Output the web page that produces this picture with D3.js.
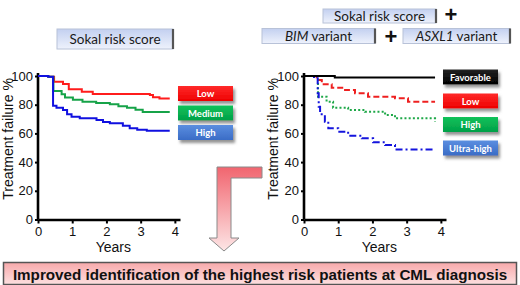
<!DOCTYPE html>
<html>
<head>
<meta charset="utf-8">
<script src="https://cdn.jsdelivr.net/npm/d3@7"></script>
<style>
  body { margin: 0; background: #fff; }
  svg { display: block; }
</style>
</head>
<body>
<script>
// tick labels
const yearTicks = [0, 1, 2, 3, 4];
const pctTicks = [0, 20, 40, 60, 80, 100];

// left panel: Sokal risk score only  [years, % free of failure]
const sokalNames = ["Low", "Medium", "High"];
const sokalLow = [[0,100],[0.3,99.5],[0.47,96],[0.73,94.4],[0.9,90.7],[1.28,89],[1.6,87.5],[3.27,86.8],[3.36,85.2],[3.55,84.3],[3.85,84.3]];
const sokalMed = [[0,100],[0.3,99.5],[0.45,89.5],[0.69,87.2],[0.79,85],[1.02,83.5],[1.3,82.1],[1.7,81.2],[2.1,80.3],[2.35,79],[2.6,77.9],[2.85,76.5],[3.06,75],[3.85,75]];
const sokalHigh = [[0,100],[0.3,99.5],[0.44,79.3],[0.54,77.9],[0.73,76.3],[0.85,73.3],[0.98,71.6],[1.22,70.5],[1.71,69.3],[1.9,68],[2.1,67],[2.48,65.4],[2.68,63.6],[2.9,62.5],[3.18,61.9],[3.85,61.9]];

// right panel: Sokal + BIM + ASXL1
const comboNames = ["Favorable", "Low", "High", "Ultra-high"];
const comboFav = [[0,100],[0.9,99],[3.83,99]];
const comboLow = [[0,100],[0.37,97.2],[0.52,94.2],[0.81,91.8],[1.2,90.2],[1.49,87.9],[1.87,85.6],[2.66,84.5],[3.04,82.1],[3.83,82.1]];
const comboHigh = [[0,100],[0.41,85.6],[0.66,82.1],[0.85,77.9],[1.29,76.3],[1.78,75.1],[2.37,72.8],[2.66,70.5],[3.63,70.5],[3.83,68.2]];
const comboUltra = [[0,100],[0.18,99.3],[0.4,87.9],[0.43,78.6],[0.47,73.3],[0.61,68.2],[0.71,63.6],[1.0,61.2],[1.29,58.4],[1.69,56.6],[2.02,53.8],[2.37,51.9],[2.66,48.8],[3.83,48.8]];

const yTitle = "Treatment failure %";
const xTitle = "Years";
const bottomText = "Improved identification of the highest risk patients at CML diagnosis";

const svg = d3.select("body").append("svg")
    .attr("width", 520)
    .attr("height", 285);

const defs = svg.append("defs");

defs.append("filter").attr("id", "shadow")
    .attr("x", "-20%").attr("y", "-30%").attr("width", "150%").attr("height", "190%")
    .append("feDropShadow")
    .attr("dx", 2).attr("dy", 3).attr("stdDeviation", 1.8)
    .attr("flood-color", "#777").attr("flood-opacity", 0.8);

function grad(id, c1, c2) {
    let g = defs.append("linearGradient").attr("id", id)
        .attr("x1", 0).attr("y1", 0).attr("x2", 0).attr("y2", 1);
    g.append("stop").attr("offset", "0%").attr("stop-color", c1);
    g.append("stop").attr("offset", "100%").attr("stop-color", c2);
}
grad("gBlueBox", "#c3d0f0", "#eef2fc");
grad("gRed", "#ff2a2a", "#ee0000");
grad("gGreen", "#12c25a", "#00a048");
grad("gBlue", "#5b8ee0", "#3a6cc6");
grad("gBlack", "#222", "#000");
grad("gArrow", "#f1656f", "#fde6e6");
grad("gBanner", "#f7a9ab", "#fde0e0");

function panel(x0, series, styles, legend, titleX) {
    const xScale = d3.scaleLinear([0, 4.15], [x0, x0 + 142]);
    const yScale = d3.scaleLinear([0, 100], [219.5, 76]);

    const xAxis = svg.append("g")
        .attr("transform", `translate(0, 219.5)`)
        .call(d3.axisBottom(xScale).tickValues(yearTicks).tickFormat(d3.format("d"))
            .tickSize(4).tickSizeOuter(0).tickPadding(3));
    const yAxis = svg.append("g")
        .attr("transform", `translate(${x0}, 0)`)
        .call(d3.axisLeft(yScale).tickValues(pctTicks).tickSize(3).tickSizeOuter(0).tickPadding(2));

    for (let ax of [xAxis, yAxis]) {
        ax.select(".domain").attr("stroke", "#000").attr("stroke-width", 2.6);
        ax.selectAll(".tick line").attr("stroke", "#000").attr("stroke-width", 2);
        ax.selectAll(".tick text")
            .attr("fill", "#111")
            .style("font", "13px 'Liberation Sans', Arial, sans-serif");
    }
    yAxis.select(".domain").attr("d", `M0,219.5V73`);

    const dMaker = d3.line()
        .x(d => xScale(d[0]))
        .y(d => yScale(d[1]))
        .curve(d3.curveStepAfter);

    svg.append("g")
        .selectAll("path")
        .data(series)
        .enter()
        .append("path")
        .attr("fill", "none")
        .attr("stroke", (d, i) => styles[i].color)
        .attr("stroke-width", 2)
        .attr("stroke-dasharray", (d, i) => styles[i].dash)
        .attr("d", d => dMaker(d));

    svg.append("text")
        .attr("transform", `translate(${titleX}, 139) rotate(-90)`)
        .attr("text-anchor", "middle")
        .attr("fill", "#111")
        .style("font", "14px 'Liberation Sans', Arial, sans-serif")
        .text(yTitle);

    svg.append("text")
        .attr("x", xScale(2.2))
        .attr("y", 252)
        .attr("text-anchor", "middle")
        .attr("fill", "#111")
        .style("font", "14px 'Liberation Sans', Arial, sans-serif")
        .text(xTitle);

    const lg = svg.append("g")
        .selectAll("g")
        .data(legend)
        .enter()
        .append("g")
        .attr("transform", d => `translate(${d.x}, ${d.y})`);
    lg.append("rect")
        .attr("width", 55).attr("height", 15)
        .attr("fill", d => d.fill)
        .attr("filter", "url(#shadow)");
    lg.append("text")
        .attr("x", 27.5).attr("y", 11)
        .attr("text-anchor", "middle")
        .attr("fill", "#fff")
        .style("font", "bold 9.5px Lato, 'Open Sans', sans-serif")
        .text(d => d.name);
}

panel(38, [sokalLow, sokalMed, sokalHigh],
    [{ color: "#ff1c1c", dash: null }, { color: "#16a348", dash: null }, { color: "#1010e0", dash: null }],
    sokalNames.map((n, i) => ({ name: n, x: 178, y: [86, 105.5, 125][i], fill: ["url(#gRed)", "url(#gGreen)", "url(#gBlue)"][i] })),
    13);

panel(304, [comboLow, comboHigh, comboUltra, comboFav],
    [{ color: "#ee2020", dash: "6,3" }, { color: "#1ea848", dash: "2,2.2" }, { color: "#1414dd", dash: "7,3,2,3" }, { color: "#000", dash: null }],
    comboNames.map((n, i) => ({ name: n, x: 443, y: [69.5, 93.5, 117, 140.5][i], fill: ["url(#gBlack)", "url(#gRed)", "url(#gGreen)", "url(#gBlue)"][i] })),
    278);

// label boxes
function labelBox(x, y, w, h, parts, size) {
    const g = svg.append("g").attr("transform", `translate(${x}, ${y})`);
    g.append("rect")
        .attr("width", w).attr("height", h)
        .attr("fill", "url(#gBlueBox)")
        .attr("stroke", "#b8c2d8").attr("stroke-width", 1);
    g.append("line")
        .attr("x1", w).attr("x2", w).attr("y1", 0).attr("y2", h)
        .attr("stroke", "#555").attr("stroke-width", 2.2);
    const t = g.append("text")
        .attr("x", w / 2).attr("y", h / 2 + size * 0.36)
        .attr("text-anchor", "middle")
        .attr("fill", "#1a1a1a")
        .style("font", `${size}px Lato, 'Open Sans', sans-serif`);
    for (let p of parts) {
        t.append("tspan").attr("font-style", p.italic ? "italic" : "normal").text(p.text);
    }
}
labelBox(57, 29, 116, 20, [{ text: "Sokal risk score" }], 13.5);
labelBox(323, 9, 113, 14, [{ text: "Sokal risk score" }], 13.5);
labelBox(262, 28.5, 113, 15, [{ text: "BIM", italic: true }, { text: " variant" }], 13.5);
labelBox(403, 28.5, 107, 15, [{ text: "ASXL1", italic: true }, { text: " variant" }], 13.5);

svg.selectAll("text.plus")
    .data([{ x: 451, y: 22 }, { x: 391, y: 44 }])
    .enter()
    .append("text")
    .attr("class", "plus")
    .attr("x", d => d.x).attr("y", d => d.y)
    .attr("text-anchor", "middle")
    .attr("fill", "#111")
    .style("font", "bold 22px 'Liberation Sans', Arial, sans-serif")
    .text("+");

// bent arrow
svg.append("path")
    .attr("d", "M262,167 H217 V238 H209 L224,251 L239,238 H231 V178 H262 Z")
    .attr("fill", "url(#gArrow)")
    .attr("stroke", "#8a8a8a")
    .attr("stroke-width", 1);

// bottom banner
svg.append("rect")
    .attr("x", 3.5).attr("y", 262.5).attr("width", 513).attr("height", 22)
    .attr("fill", "url(#gBanner)")
    .attr("stroke", "#555").attr("stroke-width", 1.5);
svg.append("text")
    .attr("x", 260).attr("y", 279.5)
    .attr("text-anchor", "middle")
    .attr("fill", "#111")
    .style("font", "bold 15.2px 'Liberation Sans', Arial, sans-serif")
    .text(bottomText);
</script>
</body>
</html>
